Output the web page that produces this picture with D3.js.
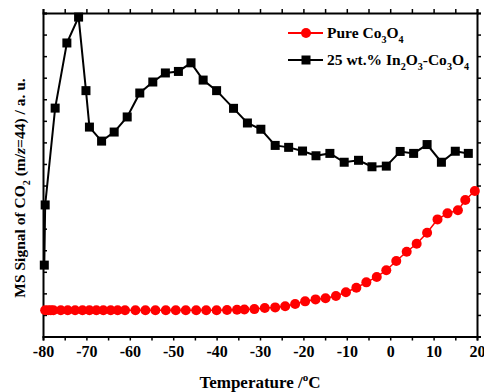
<!DOCTYPE html>
<html>
<head>
<meta charset="utf-8">
<script src="https://cdn.jsdelivr.net/npm/d3@7"></script>
<style>
  body { margin: 0; background: #fff; }
  svg text { font-family: "Liberation Serif", "Times New Roman", serif; font-weight: bold; fill: #000; }
</style>
</head>
<body>
<div id="chart"></div>
<script>
// Temperature (°C) and MS signal (a. u.)
const pureTemp = [-79.5, -78.8, -78.2, -77.6, -75.9, -74.3, -72.6, -70.9, -69.3, -67.7, -66.1, -64.4,
  -62.8, -61.1, -58.7, -56.4, -54.1, -51.7, -49.4, -47.1, -44.7, -42.4, -40.0, -37.6, -35.3, -33.6,
  -31.3, -28.9, -26.5, -24.2, -21.9, -19.6, -17.2, -14.9, -12.5, -10.2, -7.8, -5.5, -3.1, -0.9, 1.4,
  3.8, 6.1, 8.5, 10.9, 13.2, 15.6, 17.3, 19.5];
const pureSignal = [1.22, 1.22, 1.22, 1.22, 1.22, 1.22, 1.22, 1.22, 1.22, 1.22, 1.22, 1.22,
  1.22, 1.22, 1.22, 1.22, 1.22, 1.22, 1.22, 1.22, 1.22, 1.22, 1.22, 1.23, 1.24, 1.25,
  1.27, 1.32, 1.35, 1.40, 1.51, 1.63, 1.72, 1.77, 1.88, 2.05, 2.26, 2.51, 2.76, 3.07, 3.50,
  3.93, 4.30, 4.81, 5.43, 5.71, 5.85, 6.33, 6.75];

const mixTemp = [-79.7, -79.5, -77.2, -74.5, -71.8, -70.1, -69.3, -66.5, -63.6, -60.6, -57.7, -54.7,
  -51.8, -48.8, -45.9, -43.1, -40.0, -36.1, -32.9, -29.8, -26.5, -23.4, -20.2, -17.1, -13.9, -10.6,
  -7.3, -4.2, -0.9, 2.3, 5.4, 8.5, 11.8, 15.0, 18.0];
const mixSignal = [3.31, 6.10, 10.59, 13.61, 14.81, 11.40, 9.71, 9.06, 9.48, 10.18, 11.29, 11.80,
  12.22, 12.29, 12.69, 11.89, 11.40, 10.58, 9.90, 9.61, 8.86, 8.77, 8.60, 8.38, 8.49, 8.08,
  8.17, 7.87, 7.90, 8.58, 8.49, 8.90, 8.08, 8.59, 8.49];

const xTicks = [-80, -70, -60, -50, -40, -30, -20, -10, 0, 10, 20];

const width = 484, height = 392;
const margin = { top: 13, right: 7, bottom: 55.5, left: 43 };

const svg = d3.select("#chart").append("svg")
  .attr("width", width)
  .attr("height", height);

const x = d3.scaleLinear().domain([-80, 20]).range([margin.left, width - margin.right]);
const y = d3.scaleLinear().domain([0, 15]).range([height - margin.bottom, margin.top]);

// axes
const bottomAxis = svg.append("g")
  .attr("transform", `translate(0,${y(0)})`)
  .call(d3.axisBottom(x).tickValues(xTicks).tickSize(4).tickPadding(5));
bottomAxis.selectAll("text").attr("font-size", 16).text(d => d < 0 ? "-" + Math.abs(d) : d);

svg.append("g")
  .attr("transform", `translate(0,${y(15)})`)
  .call(d3.axisTop(x).ticks(20).tickSize(4).tickFormat(""));

svg.append("g")
  .attr("transform", `translate(${x(-80)},0)`)
  .call(d3.axisRight(y).ticks(15).tickSize(4).tickFormat(""));

svg.append("g")
  .attr("transform", `translate(${x(20)},0)`)
  .call(d3.axisRight(y).ticks(15).tickSize(4).tickFormat(""));

// minor x ticks on bottom
svg.append("g")
  .attr("transform", `translate(0,${y(0)})`)
  .call(d3.axisBottom(x).tickValues(d3.range(-75, 20, 10)).tickSize(4).tickFormat(""))
  .select(".domain").remove();

svg.selectAll(".domain").attr("stroke-width", 2);
svg.selectAll(".tick line").attr("stroke-width", 1.5);

// series
const line = d3.line().x(d => x(d[0])).y(d => y(d[1]));
const pure = d3.zip(pureTemp, pureSignal);
const mix = d3.zip(mixTemp, mixSignal);

svg.append("path").datum(pure)
  .attr("d", line).attr("fill", "none").attr("stroke", "#ff0000").attr("stroke-width", 1.5);
svg.append("g").selectAll("circle").data(pure).join("circle")
  .attr("cx", d => x(d[0])).attr("cy", d => y(d[1])).attr("r", 5).attr("fill", "#ff0000");

svg.append("path").datum(mix)
  .attr("d", line).attr("fill", "none").attr("stroke", "#000").attr("stroke-width", 2);
svg.append("g").selectAll("rect").data(mix).join("rect")
  .attr("x", d => x(d[0]) - 4.5).attr("y", d => y(d[1]) - 4.5)
  .attr("width", 9).attr("height", 9).attr("fill", "#000");

// legend
const legend = svg.append("g");
legend.append("line").attr("x1", 288).attr("x2", 323).attr("y1", 33).attr("y2", 33)
  .attr("stroke", "#ff0000").attr("stroke-width", 2);
legend.append("circle").attr("cx", 306).attr("cy", 33).attr("r", 5).attr("fill", "#ff0000");
legend.append("line").attr("x1", 288).attr("x2", 323).attr("y1", 60).attr("y2", 60)
  .attr("stroke", "#000").attr("stroke-width", 2);
legend.append("rect").attr("x", 301.5).attr("y", 55.5).attr("width", 9).attr("height", 9).attr("fill", "#000");

function subText(sel, parts, size) {
  parts.forEach(p => {
    const t = sel.append("tspan").text(p.t);
    if (p.sub) t.attr("font-size", size * 0.65).attr("dy", size * 0.3);
    else if (p.sup) t.attr("font-size", size * 0.65).attr("dy", -size * 0.4);
    if (p.back) t.attr("dy", p.back);
    if (p.italic) t.attr("font-style", "italic");
  });
}

const fs = 15.5;
const l1 = legend.append("text").attr("x", 327).attr("y", 38).attr("font-size", fs);
subText(l1, [{ t: "Pure Co" }, { t: "3", sub: true }, { t: "O", back: -fs * 0.3 }, { t: "4", sub: true }], fs);

const l2 = legend.append("text").attr("x", 327).attr("y", 65).attr("font-size", fs);
subText(l2, [{ t: "25 wt.% In" }, { t: "2", sub: true }, { t: "O", back: -fs * 0.3 }, { t: "3", sub: true },
  { t: "-Co", back: -fs * 0.3 }, { t: "3", sub: true }, { t: "O", back: -fs * 0.3 }, { t: "4", sub: true }], fs);

// axis titles
const tfs = 17;
const xt = svg.append("text").attr("x", 260).attr("y", 388).attr("text-anchor", "middle").attr("font-size", tfs);
subText(xt, [{ t: "Temperature /" }, { t: "o", sup: true }, { t: "C", back: tfs * 0.4 }], tfs);

const yt = svg.append("text").attr("transform", "translate(25,188) rotate(-90)")
  .attr("text-anchor", "middle").attr("font-size", fs);
subText(yt, [{ t: "MS Signal of CO" }, { t: "2", sub: true }, { t: " (m/", back: -fs * 0.3 },
  { t: "z", italic: true }, { t: "=44) / a. u." }], fs);
</script>
</body>
</html>
